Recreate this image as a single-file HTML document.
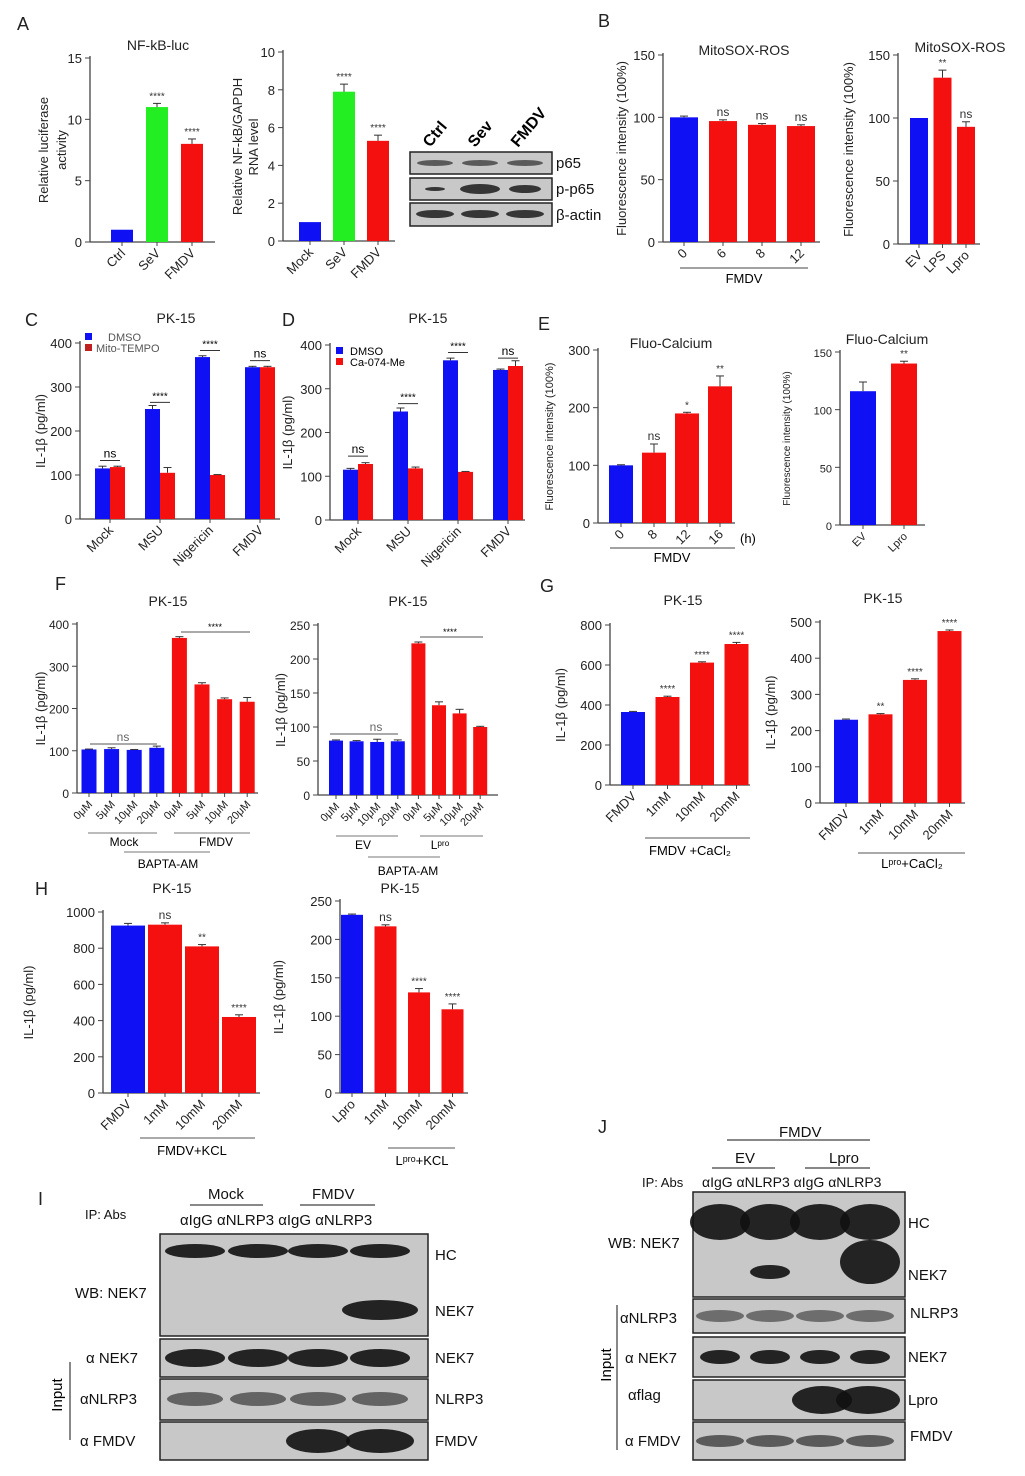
<!DOCTYPE html>
<html><head><meta charset="utf-8"><style>
body{margin:0;background:#fff}
svg{display:block;font-family:"Liberation Sans",sans-serif}
</style></head><body>
<svg id="fig" width="1025" height="1476" viewBox="0 0 1025 1476" xmlns="http://www.w3.org/2000/svg">
<rect width="1025" height="1476" fill="#fff"/>
<g id="static" font-size="14" fill="#222">
<text x="17" y="30" font-size="18">A</text>
<text x="598" y="27" font-size="18">B</text>
<text x="25" y="326" font-size="18">C</text>
<text x="282" y="326" font-size="18">D</text>
<text x="538" y="330" font-size="18">E</text>
<text x="55" y="590" font-size="18">F</text>
<text x="540" y="592" font-size="18">G</text>
<text x="35" y="895" font-size="18">H</text>
<text x="38" y="1205" font-size="18">I</text>
<text x="598" y="1133" font-size="18">J</text>
</g>
<g id="charts"></g>
<g id="blots"></g>
</svg>
<script>
// ---- data ----
const a1Cats=['Ctrl','SeV','FMDV']; const a1Vals=[1,11,8]; const a1Errs=[0,0.3,0.4]; const a1Sig=['','****','****'];
const a2Cats=['Mock','SeV','FMDV']; const a2Vals=[1,7.9,5.3]; const a2Errs=[0,0.4,0.3]; const a2Sig=['','****','****'];
const b1Cats=['0','6','8','12']; const b1Vals=[100,97,94,93]; const b1Errs=[1,1,1,1]; const b1Sig=['','ns','ns','ns'];
const b2Cats=['EV','LPS','Lpro']; const b2Vals=[100,132,93]; const b2Errs=[0,6,4]; const b2Sig=['','**','ns'];
const cCats=['Mock','MSU','Nigericin','FMDV']; const cDmso=[115,250,368,345]; const cMito=[118,105,100,345]; const cSig=['ns','****','****','ns'];
const dCats=['Mock','MSU','Nigericin','FMDV']; const dDmso=[115,248,365,343]; const dCa=[128,118,110,352]; const dSig=['ns','****','****','ns'];
const e1Cats=['0','8','12','16']; const e1Vals=[100,122,190,237]; const e1Errs=[1,15,2,18]; const e1Sig=['','ns','*','**'];
const e2Cats=['EV','Lpro']; const e2Vals=[116,140]; const e2Errs=[8,2]; const e2Sig=['','**'];
const f1Cats=['0μM','5μM','10μM','20μM','0μM','5μM','10μM','20μM']; const f1Vals=[103,104,102,107,367,257,222,216]; const f1Errs=[1,3,1,4,3,4,3,10];
const f2Cats=['0μM','5μM','10μM','20μM','0μM','5μM','10μM','20μM']; const f2Vals=[80,79,78,79,223,132,120,100]; const f2Errs=[1,1,4,2,2,5,6,1];
const g1Cats=['FMDV','1mM','10mM','20mM']; const g1Vals=[365,440,612,705]; const g1Errs=[3,4,4,8]; const g1Sig=['','****','****','****'];
const g2Cats=['FMDV','1mM','10mM','20mM']; const g2Vals=[230,245,340,475]; const g2Errs=[2,2,3,3]; const g2Sig=['','**','****','****'];
const h1Cats=['FMDV','1mM','10mM','20mM']; const h1Vals=[925,930,810,420]; const h1Errs=[12,10,10,12]; const h1Sig=['','ns','**','****'];
const h2Cats=['Lpro','1mM','10mM','20mM']; const h2Vals=[232,217,131,109]; const h2Errs=[1,2,5,7]; const h2Sig=['','ns','****','****'];

const BLUE='#1010f5', RED='#f51010', GREEN='#22ee22';
const NS='http://www.w3.org/2000/svg';
const root=document.getElementById('charts');
function el(tag,attrs,parent,text){const e=document.createElementNS(NS,tag);for(const k in attrs)e.setAttribute(k,attrs[k]);if(text!==undefined)e.textContent=text;(parent||root).appendChild(e);return e;}

function chart(c){
  const g=el('g',{});
  
  
  const ys=v=>c.y0-v/c.ymax*(c.y0-c.y1);
  const ax=el('line',{x1:c.ax,y1:c.y1-2,x2:c.ax,y2:c.y0,stroke:'#444','stroke-width':1.3},g);
  
  
  const bx=el('line',{x1:c.ax,y1:c.y0,x2:c.xEnd,y2:c.y0,stroke:'#444','stroke-width':1.3},g);
  
  
  c.ticks.forEach(t=>{
    el('line',{x1:c.ax-5,x2:c.ax,y1:ys(t),y2:ys(t),stroke:'#444'},g);
    const tl=el('text',{x:c.ax-8,y:ys(t)+5,'text-anchor':'end','font-size':c.tfs||13,fill:'#222'},g,t);
    
    
  });
  c.series.forEach((s,si)=>{
    s.vals.forEach((v,i)=>{
      const cx=c.first+i*c.step+(s.off||0);
      const col=Array.isArray(s.color)?s.color[i]:s.color;
      const r=el('rect',{x:cx-c.bw/2,y:ys(v),width:c.bw,height:c.y0-ys(v),fill:col},g);
      
      
      const e=s.errs?s.errs[i]:0;
      if(e>0){el('line',{x1:cx,x2:cx,y1:ys(v),y2:ys(v+e),stroke:'#333'},g);el('line',{x1:cx-4,x2:cx+4,y1:ys(v+e),y2:ys(v+e),stroke:'#333'},g);}
      if(s.sig&&s.sig[i]){const st=el('text',{x:cx,y:ys(v+e)-4,'text-anchor':'middle','font-size':s.sig[i]=='ns'?12:10,fill:'#333'},g,s.sig[i]);}
    });
  });
  c.cats.forEach((t,i)=>{
    const cx=c.first+i*c.step+(c.labOff||0);
    el('line',{x1:cx,x2:cx,y1:c.y0,y2:c.y0+4,stroke:'#444'},g);
    const lab=el('text',{transform:`translate(${cx+4},${c.y0+12}) rotate(-45)`,'text-anchor':'end','font-size':c.xfs||13,fill:'#222'},g,t);
    
    
  });
  const tt=el('text',{x:c.tx,y:c.ty,'text-anchor':'middle','font-size':14,fill:'#222'},g,c.title||'');
  
  
  const yl=el('text',{transform:`translate(${c.ylx},${(c.y0+c.y1)/2}) rotate(-90)`,'text-anchor':'middle','font-size':c.ylfs||13,fill:'#222'},g,c.ylabel);
  
  
  return g;
}

chart({name:'chart-a1',ax:90,y0:242,y1:58,ymax:15,ticks:[0,5,10,15],xEnd:215,first:122,step:35,bw:22,cats:a1Cats,series:[{vals:a1Vals,errs:a1Errs,sig:a1Sig,color:[BLUE,GREEN,RED]}],title:'NF-kB-luc',tx:158,ty:50,ylx:48,ylabel:'Relative luciferase',labOff:0});
el('text',{transform:'translate(66,150) rotate(-90)','text-anchor':'middle','font-size':13,fill:'#222'},root,'activity');
chart({name:'chart-a2',ax:283,y0:241,y1:52,ymax:10,ticks:[0,2,4,6,8,10],xEnd:395,first:310,step:34,bw:22,cats:a2Cats,series:[{vals:a2Vals,errs:a2Errs,sig:a2Sig,color:[BLUE,GREEN,RED]}],title:'',tx:0,ty:0,ylx:242,ylabel:'Relative NF-kB/GAPDH'});
el('text',{transform:'translate(258,147) rotate(-90)','text-anchor':'middle','font-size':13,fill:'#222'},root,'RNA level');
chart({name:'chart-b1',ax:663,y0:242,y1:55,ymax:150,ticks:[0,50,100,150],xEnd:820,first:684,step:39,bw:28,cats:b1Cats,series:[{vals:b1Vals,errs:b1Errs,sig:b1Sig,color:[BLUE,RED,RED,RED]}],title:'MitoSOX-ROS',tx:744,ty:55,ylx:626,ylabel:'Fluorescence intensity (100%)',xfs:13});
el('line',{x1:680,x2:808,y1:268,y2:268,stroke:'#444'});el('text',{x:744,y:283,'text-anchor':'middle','font-size':13},root,'FMDV');
chart({name:'chart-b2',ax:898,y0:244,y1:55,ymax:150,ticks:[0,50,100,150],xEnd:980,first:919,step:23.5,bw:18,cats:b2Cats,series:[{vals:b2Vals,errs:b2Errs,sig:b2Sig,color:[BLUE,RED,RED]}],title:'MitoSOX-ROS',tx:960,ty:52,ylx:853,ylabel:'Fluorescence intensity (100%)',xfs:13});
chart({name:'chart-c',ax:80,y0:519,y1:343,ymax:400,ticks:[0,100,200,300,400],xEnd:280,first:110,step:50,bw:15,cats:cCats,series:[{vals:cDmso,errs:[5,8,3,2],color:BLUE,off:-7.5},{vals:cMito,errs:[2,12,1,2],color:RED,off:7.5}],title:'PK-15',tx:176,ty:323,ylx:45,ylabel:'IL-1β (pg/ml)'});
cSig.forEach((s,i)=>{const x=110+i*50;const top=519-(Math.max(cDmso[i],cMito[i])+15)/400*176;el('line',{x1:x-10,x2:x+10,y1:top,y2:top,stroke:'#333'});el('text',{x:x,y:top-3,'text-anchor':'middle','font-size':s=='ns'?12:10},root,s);});
el('rect',{x:85,y:333,width:7,height:7,fill:BLUE});el('text',{x:108,y:341,'font-size':11,fill:'#555'},root,'DMSO');
el('rect',{x:85,y:344,width:7,height:7,fill:'#c02020'});el('text',{x:96,y:352,'font-size':11,fill:'#555'},root,'Mito-TEMPO');
chart({name:'chart-d',ax:330,y0:520,y1:345,ymax:400,ticks:[0,100,200,300,400],xEnd:525,first:358,step:50,bw:15,cats:dCats,series:[{vals:dDmso,errs:[3,8,5,2],color:BLUE,off:-7.5},{vals:dCa,errs:[3,3,1,12],color:RED,off:7.5}],title:'PK-15',tx:428,ty:323,ylx:292,ylabel:'IL-1β (pg/ml)'});
dSig.forEach((s,i)=>{const x=358+i*50;const top=520-(Math.max(dDmso[i],dCa[i])+18)/400*175;el('line',{x1:x-10,x2:x+10,y1:top,y2:top,stroke:'#333'});el('text',{x:x,y:top-3,'text-anchor':'middle','font-size':s=='ns'?12:10},root,s);});
el('rect',{x:336,y:347,width:7,height:7,fill:BLUE});el('text',{x:350,y:355,'font-size':11},root,'DMSO');
el('rect',{x:336,y:358,width:7,height:7,fill:RED});el('text',{x:350,y:366,'font-size':11},root,'Ca-074-Me');
chart({name:'chart-e1',ax:598,y0:523,y1:350,ymax:300,ticks:[0,100,200,300],xEnd:735,first:621,step:33,bw:24,cats:e1Cats,series:[{vals:e1Vals,errs:e1Errs,sig:e1Sig,color:[BLUE,RED,RED,RED]}],title:'Fluo-Calcium',tx:671,ty:348,ylx:553,ylabel:'Fluorescence intensity (100%)',ylfs:11});
el('line',{x1:610,x2:735,y1:548,y2:548,stroke:'#444'});el('text',{x:672,y:562,'text-anchor':'middle','font-size':13},root,'FMDV');el('text',{x:740,y:543,'font-size':13},root,'(h)');
chart({name:'chart-e2',ax:840,y0:525,y1:352,ymax:150,ticks:[0,50,100,150],xEnd:925,first:863,step:41,bw:26,cats:e2Cats,series:[{vals:e2Vals,errs:e2Errs,sig:e2Sig,color:[BLUE,RED]}],title:'Fluo-Calcium',tx:887,ty:344,ylx:790,ylabel:'Fluorescence intensity (100%)',ylfs:10,tfs:11,xfs:11});
chart({name:'chart-f1',ax:77,y0:793,y1:624,ymax:400,ticks:[0,100,200,300,400],xEnd:258,first:89,step:22.6,bw:15,cats:f1Cats,series:[{vals:f1Vals,errs:f1Errs,color:[BLUE,BLUE,BLUE,BLUE,RED,RED,RED,RED]}],title:'PK-15',tx:168,ty:606,ylx:45,ylabel:'IL-1β (pg/ml)',xfs:11,tfs:12});
el('line',{x1:90,x2:157,y1:744,y2:744,stroke:'#555'});el('text',{x:123,y:741,'text-anchor':'middle','font-size':12,fill:'#666'},root,'ns');
el('line',{x1:181,x2:250,y1:632,y2:632,stroke:'#555'});el('text',{x:215,y:630,'text-anchor':'middle','font-size':9},root,'****');
el('line',{x1:88,x2:157,y1:833,y2:833,stroke:'#777'});el('text',{x:124,y:846,'text-anchor':'middle','font-size':12},root,'Mock');
el('line',{x1:174,x2:250,y1:833,y2:833,stroke:'#777'});el('text',{x:216,y:846,'text-anchor':'middle','font-size':12},root,'FMDV');
el('line',{x1:124,x2:210,y1:852,y2:852,stroke:'#777'});el('text',{x:168,y:868,'text-anchor':'middle','font-size':12},root,'BAPTA-AM');
chart({name:'chart-f2',ax:318,y0:795,y1:625,ymax:250,ticks:[0,50,100,150,200,250],xEnd:498,first:336,step:20.6,bw:14,cats:f2Cats,series:[{vals:f2Vals,errs:f2Errs,color:[BLUE,BLUE,BLUE,BLUE,RED,RED,RED,RED]}],title:'PK-15',tx:408,ty:606,ylx:285,ylabel:'IL-1β (pg/ml)',xfs:11,tfs:12});
el('line',{x1:330,x2:398,y1:734,y2:734,stroke:'#555'});el('text',{x:376,y:731,'text-anchor':'middle','font-size':12,fill:'#666'},root,'ns');
el('line',{x1:420,x2:483,y1:637,y2:637,stroke:'#555'});el('text',{x:450,y:635,'text-anchor':'middle','font-size':9},root,'****');
el('line',{x1:336,x2:398,y1:836,y2:836,stroke:'#777'});el('text',{x:363,y:849,'text-anchor':'middle','font-size':12},root,'EV');
el('line',{x1:420,x2:483,y1:836,y2:836,stroke:'#777'});el('text',{x:440,y:849,'text-anchor':'middle','font-size':12},root,'Lᵖʳᵒ');
el('line',{x1:368,x2:440,y1:857,y2:857,stroke:'#777'});el('text',{x:408,y:875,'text-anchor':'middle','font-size':12},root,'BAPTA-AM');
chart({name:'chart-g1',ax:610,y0:785,y1:625,ymax:800,ticks:[0,200,400,600,800],xEnd:750,first:633,step:34.5,bw:24,cats:g1Cats,series:[{vals:g1Vals,errs:g1Errs,sig:g1Sig,color:[BLUE,RED,RED,RED]}],title:'PK-15',tx:683,ty:605,ylx:565,ylabel:'IL-1β (pg/ml)'});
el('line',{x1:645,x2:750,y1:838,y2:838,stroke:'#555'});el('text',{x:690,y:855,'text-anchor':'middle','font-size':13},root,'FMDV +CaCl₂');
chart({name:'chart-g2',ax:820,y0:803,y1:622,ymax:500,ticks:[0,100,200,300,400,500],xEnd:965,first:846,step:34.5,bw:24,cats:g2Cats,series:[{vals:g2Vals,errs:g2Errs,sig:g2Sig,color:[BLUE,RED,RED,RED]}],title:'PK-15',tx:883,ty:603,ylx:775,ylabel:'IL-1β (pg/ml)'});
el('line',{x1:858,x2:965,y1:853,y2:853,stroke:'#555'});el('text',{x:912,y:868,'text-anchor':'middle','font-size':13},root,'Lᵖʳᵒ+CaCl₂');
chart({name:'chart-h1',ax:103,y0:1093,y1:912,ymax:1000,ticks:[0,200,400,600,800,1000],xEnd:260,first:128,step:37,bw:34,cats:h1Cats,series:[{vals:h1Vals,errs:h1Errs,sig:h1Sig,color:[BLUE,RED,RED,RED]}],title:'PK-15',tx:172,ty:893,ylx:33,ylabel:'IL-1β (pg/ml)'});
el('line',{x1:140,x2:255,y1:1138,y2:1138,stroke:'#555'});el('text',{x:192,y:1155,'text-anchor':'middle','font-size':13},root,'FMDV+KCL');
chart({name:'chart-h2',ax:340,y0:1093,y1:901,ymax:250,ticks:[0,50,100,150,200,250],xEnd:468,first:352,step:33.5,bw:22,cats:h2Cats,series:[{vals:h2Vals,errs:h2Errs,sig:h2Sig,color:[BLUE,RED,RED,RED]}],title:'PK-15',tx:400,ty:893,ylx:283,ylabel:'IL-1β (pg/ml)'});
el('line',{x1:388,x2:455,y1:1148,y2:1148,stroke:'#555'});el('text',{x:422,y:1165,'text-anchor':'middle','font-size':13},root,'Lᵖʳᵒ+KCL');

// ---- blots ----
const B=document.getElementById('blots');
function box(x,y,w,h,name){const r=el('rect',{x:x,y:y,width:w,height:h,fill:'#c8c8c8',stroke:'#222','stroke-width':1.5},B);}
function band(cx,cy,rx,ry,op){el('ellipse',{cx:cx,cy:cy,rx:rx,ry:ry,fill:'#111','fill-opacity':op||0.9},B);}
function txt(x,y,s,fs,anchor){el('text',{x:x,y:y,'font-size':fs||15,'text-anchor':anchor||'start',fill:'#111'},B,s);}
// A blot
box(410,152,142,22,'blot-p65');box(410,178,142,22,'blot-p-p65');box(410,203,142,23,'blot-actin');
[435,480,525].forEach((x,i)=>{band(x,163,18,3,0.6);band(x,189,[10,20,16][i],[2,5,4][i],0.8);band(x,214,19,4,0.8);});
txt(556,168,'p65');txt(556,194,'p-p65');txt(556,220,'β-actin');
[['Ctrl',430],['Sev',475],['FMDV',518]].forEach(([s,x])=>el('text',{transform:`translate(${x},${148}) rotate(-50)`,'font-size':16,'font-weight':'bold'},B,s));
// I blot
box(160,1234,268,102,'blot-i-wb');box(160,1339,268,38,'blot-i-nek7');box(160,1379,268,41,'blot-i-nlrp3');box(160,1422,268,38,'blot-i-fmdv');
[195,258,318,380].forEach(x=>{band(x,1251,30,7);band(x,1358,30,9);band(x,1399,28,7,0.55);});
band(380,1310,38,10);band(318,1441,32,12);band(380,1441,34,12);
txt(435,1260,'HC');txt(435,1316,'NEK7');txt(435,1363,'NEK7');txt(435,1404,'NLRP3');txt(435,1446,'FMDV');
txt(75,1298,'WB: NEK7');txt(86,1363,'α NEK7');txt(80,1404,'αNLRP3');txt(80,1446,'α FMDV');
txt(85,1219,'IP: Abs',13);txt(180,1225,'αIgG αNLRP3 αIgG  αNLRP3');
txt(208,1199,'Mock');txt(312,1199,'FMDV');el('line',{x1:190,x2:263,y1:1205,y2:1205,stroke:'#111'},B);el('line',{x1:300,x2:375,y1:1205,y2:1205,stroke:'#111'},B);
el('line',{x1:70,x2:70,y1:1362,y2:1440,stroke:'#111'},B);el('text',{transform:'translate(62,1395) rotate(-90)','font-size':15,'text-anchor':'middle'},B,'Input');
// J blot
box(693,1192,212,105,'blot-j-wb');box(693,1299,212,34,'blot-j-nlrp3');box(693,1337,212,40,'blot-j-nek7');box(693,1380,212,40,'blot-j-flag');box(693,1422,212,38,'blot-j-fmdv');
[720,770,820,870].forEach(x=>{band(x,1222,30,18);band(x,1316,24,6,0.5);band(x,1441,24,6,0.6);});
band(770,1272,20,7);band(870,1262,30,22);
[720,770,820,870].forEach(x=>band(x,1357,20,7));
band(822,1400,30,14);band(868,1400,32,14);
txt(908,1228,'HC');txt(908,1280,'NEK7');txt(910,1318,'NLRP3');txt(908,1362,'NEK7');txt(908,1405,'Lpro');txt(910,1441,'FMDV');
txt(608,1248,'WB: NEK7');txt(620,1323,'αNLRP3');txt(625,1363,'α NEK7');txt(628,1400,'αflag');txt(625,1446,'α FMDV');
txt(642,1187,'IP: Abs',13);txt(702,1187,'αIgG αNLRP3 αIgG αNLRP3',14);
txt(779,1137,'FMDV');el('line',{x1:727,x2:870,y1:1140,y2:1140,stroke:'#111'},B);
txt(735,1163,'EV');txt(829,1163,'Lpro');el('line',{x1:712,x2:775,y1:1168,y2:1168,stroke:'#111'},B);el('line',{x1:805,x2:870,y1:1168,y2:1168,stroke:'#111'},B);
el('line',{x1:617,x2:617,y1:1305,y2:1450,stroke:'#111'},B);el('text',{transform:'translate(611,1365) rotate(-90)','font-size':15,'text-anchor':'middle'},B,'Input');
</script>
</body></html>
